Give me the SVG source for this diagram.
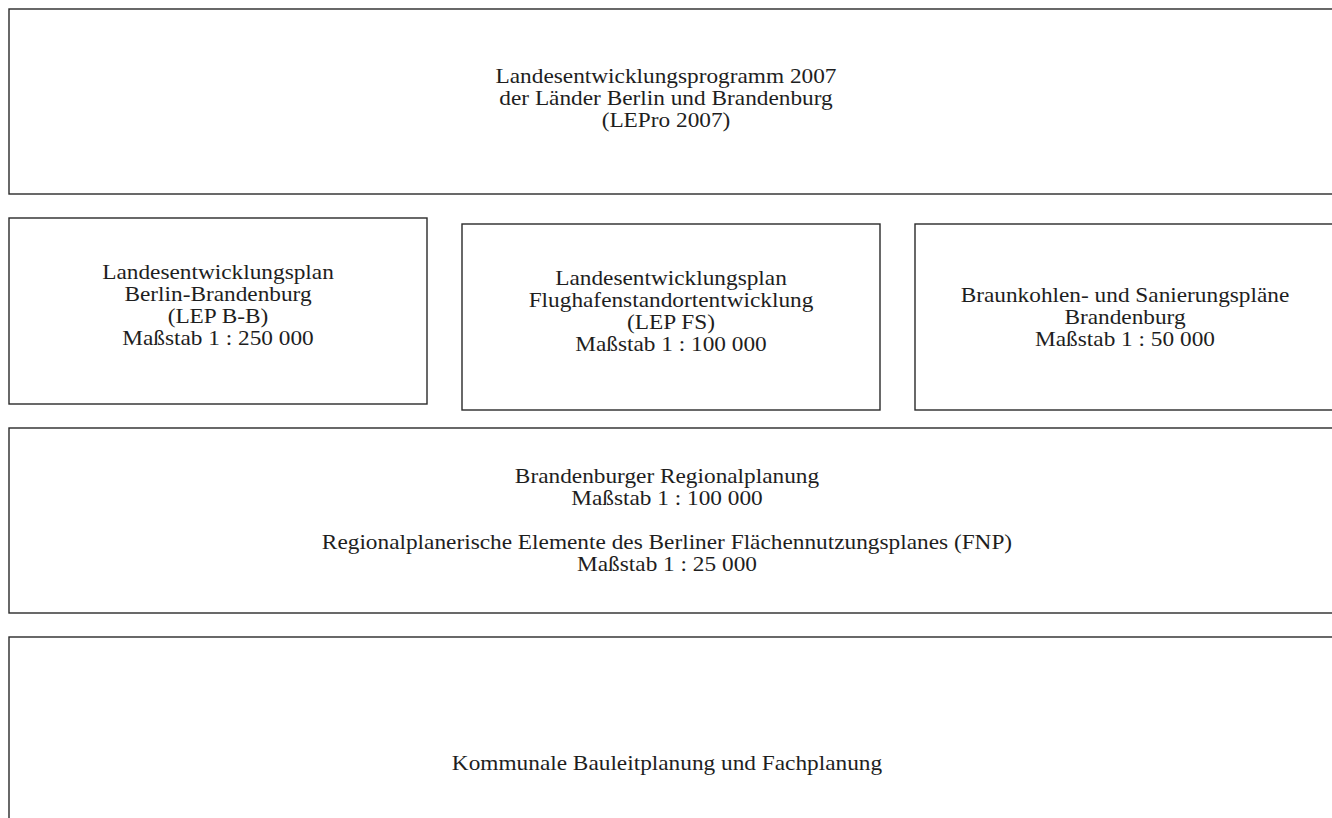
<svg xmlns="http://www.w3.org/2000/svg" width="1332" height="818" viewBox="0 0 1332 818">
<style>
.box{fill:#fff;stroke:#2a2a2a;stroke-width:1.4}
text{font-family:"Liberation Serif","Times New Roman",serif;font-size:21px;fill:#1e1e1e;text-anchor:middle}
</style>
<rect width="1332" height="818" fill="#fff"/>
<g id="lepro">
<rect class="box" x="9" y="9" width="1330" height="185"/>
<text transform="translate(666 0) scale(1.11 1)" x="0" y="83">Landesentwicklungsprogramm 2007<tspan x="0" dy="22">der Länder Berlin und Brandenburg</tspan><tspan x="0" dy="22">(LEPro 2007)</tspan></text>
</g>
<g id="lepbb">
<rect class="box" x="9" y="218" width="418" height="186"/>
<text transform="translate(218 0) scale(1.11 1)" x="0" y="279">Landesentwicklungsplan<tspan x="0" dy="22">Berlin-Brandenburg</tspan><tspan x="0" dy="22">(LEP B-B)</tspan><tspan x="0" dy="22">Maßstab 1 : 250 000</tspan></text>
</g>
<g id="lepfs">
<rect class="box" x="462" y="224" width="418" height="186"/>
<text transform="translate(671 0) scale(1.11 1)" x="0" y="285">Landesentwicklungsplan<tspan x="0" dy="22">Flughafenstandortentwicklung</tspan><tspan x="0" dy="22">(LEP FS)</tspan><tspan x="0" dy="22">Maßstab 1 : 100 000</tspan></text>
</g>
<g id="braunkohle">
<rect class="box" x="915" y="224" width="430" height="186"/>
<text transform="translate(1125 0) scale(1.11 1)" x="0" y="302">Braunkohlen- und Sanierungspläne<tspan x="0" dy="22">Brandenburg</tspan><tspan x="0" dy="22">Maßstab 1 : 50 000</tspan></text>
</g>
<g id="regional">
<rect class="box" x="9" y="428" width="1330" height="185"/>
<text transform="translate(667 0) scale(1.11 1)" x="0" y="483">Brandenburger Regionalplanung<tspan x="0" dy="22">Maßstab 1 : 100 000</tspan></text>
<text transform="translate(667 0) scale(1.11 1)" x="0" y="549">Regionalplanerische Elemente des Berliner Flächennutzungsplanes (FNP)<tspan x="0" dy="22">Maßstab 1 : 25 000</tspan></text>
</g>
<g id="kommunal">
<rect class="box" x="9" y="637" width="1330" height="200"/>
<text transform="translate(667 0) scale(1.11 1)" x="0" y="770">Kommunale Bauleitplanung und Fachplanung</text>
</g>
<g id="connectors"/>
</svg>
